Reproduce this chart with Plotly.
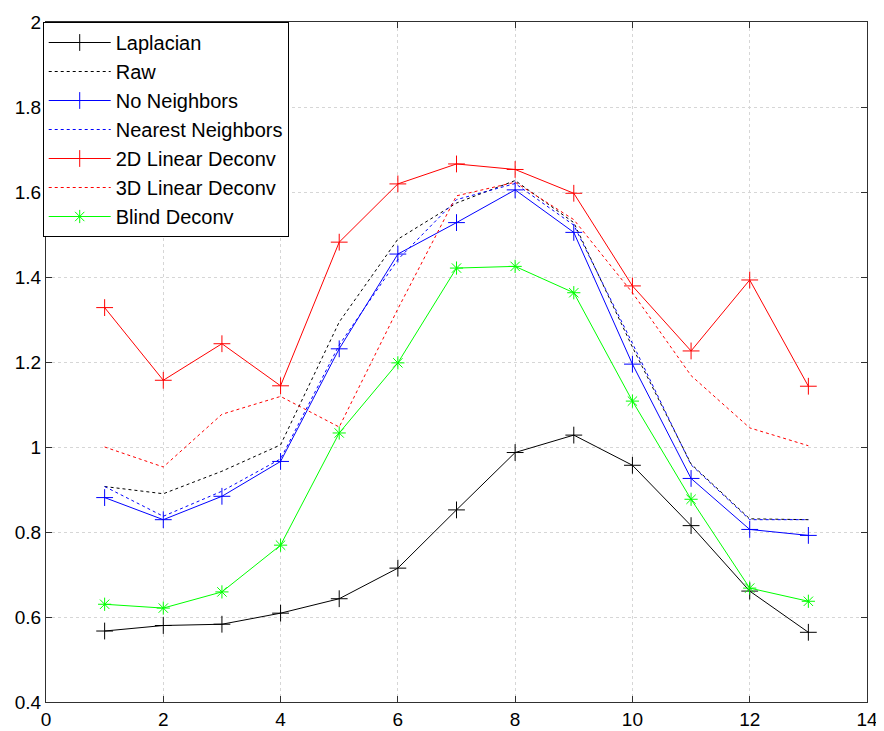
import plotly.graph_objects as go

x = list(range(1, 14))

laplacian = [0.567, 0.580, 0.583, 0.609, 0.643, 0.715, 0.852, 0.987, 1.028, 0.957, 0.815, 0.661, 0.564]
raw = [0.907, 0.890, 0.943, 1.005, 1.294, 1.489, 1.574, 1.627, 1.528, 1.235, 0.960, 0.831, 0.829]
no_neighbors = [0.881, 0.829, 0.884, 0.966, 1.231, 1.454, 1.528, 1.605, 1.505, 1.195, 0.926, 0.806, 0.792]
nearest_neighbors = [0.907, 0.837, 0.896, 0.972, 1.240, 1.441, 1.582, 1.620, 1.522, 1.244, 0.958, 0.829, 0.829]
lin2d = [1.328, 1.157, 1.243, 1.144, 1.482, 1.619, 1.666, 1.653, 1.597, 1.379, 1.226, 1.393, 1.143]
lin3d = [1.000, 0.953, 1.077, 1.119, 1.047, 1.325, 1.591, 1.623, 1.535, 1.363, 1.168, 1.045, 1.003]
blind = [0.630, 0.621, 0.659, 0.769, 1.033, 1.198, 1.421, 1.425, 1.363, 1.108, 0.877, 0.668, 0.637]

x_ticks = [0, 2, 4, 6, 8, 10, 12, 14]
y_ticks = [0.4, 0.6, 0.8, 1.0, 1.2, 1.4, 1.6, 1.8, 2.0]
y_tick_text = ["0.4", "0.6", "0.8", "1", "1.2", "1.4", "1.6", "1.8", "2"]

series = [
    ("Laplacian", laplacian, "#000000", "solid", "cross-thin", 12),
    ("Raw", raw, "#000000", "dot", None, 0),
    ("No Neighbors", no_neighbors, "#0000ff", "solid", "cross-thin", 12),
    ("Nearest Neighbors", nearest_neighbors, "#0000ff", "dot", None, 0),
    ("2D Linear Deconv", lin2d, "#ff0000", "solid", "cross-thin", 12),
    ("3D Linear Deconv", lin3d, "#ff0000", "dot", None, 0),
    ("Blind Deconv", blind, "#00ff00", "solid", "asterisk", 11),
]

fig = go.Figure()
for i, (name, vals, color, dash, sym, msize) in enumerate(series):
    if sym:
        mode = "lines+markers"
        marker = dict(symbol=sym, size=msize, color=color, line=dict(color=color, width=1))
    else:
        mode = "lines"
        marker = None
    fig.add_trace(go.Scatter(
        x=x, y=vals, name=name, mode=mode,
        line=dict(color=color, width=1, dash=dash),
        marker=marker, legendgroup=f"g{i}",
    ))

FONT = "Liberation Sans, Arial, sans-serif"

axis_common = dict(
    showline=True, linecolor="#303030", linewidth=1, mirror="ticks",
    ticks="inside", ticklen=6, tickcolor="#303030",
    showgrid=True, gridcolor="#d6d6d6", griddash="3px,3px", gridwidth=1,
    zeroline=False, automargin=False,
    tickfont=dict(family=FONT, size=19, color="#000000"),
)

fig.update_xaxes(range=[0, 14], tickvals=x_ticks, ticktext=[str(t) for t in x_ticks], **axis_common)
fig.update_yaxes(range=[0.4, 2.0], tickvals=y_ticks, ticktext=y_tick_text, **axis_common)

# page body has an 8px margin; figure is sized/offset so the plot area lands where the reference has it
fig.update_layout(
    width=876, height=723,
    margin=dict(l=38, r=17, t=14, b=29),
    plot_bgcolor="white", paper_bgcolor="white",
    font=dict(family=FONT, size=20, color="#000000"),
    legend=dict(
        x=-0.004, y=1, xanchor="left", yanchor="top",
        bgcolor="white", bordercolor="#000000", borderwidth=1,
        font=dict(family=FONT, size=20), tracegroupgap=0,
        itemwidth=62,
    ),
    showlegend=True,
)

fig.write_html("out.html")
